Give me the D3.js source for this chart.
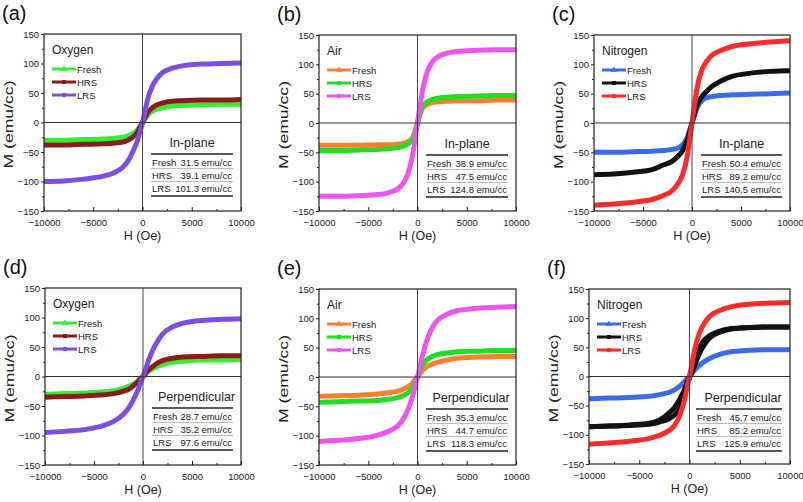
<!DOCTYPE html>
<html><head><meta charset="utf-8">
<script src="https://cdn.jsdelivr.net/npm/d3@7"></script>
<style>
body{margin:0;background:#fff;}
svg{display:block;font-family:"Liberation Sans",Arial,sans-serif;}
</style></head>
<body><svg id="c" width="803" height="502"></svg>
<script>
// ---------- DATA ----------
const H = [-10000,-8000,-6000,-4000,-3000,-2000,-1500,-1000,-500,-250,0,250,500,1000,1500,2000,3000,4000,6000,8000,10000];
const xTicks = [-10000,-5000,0,5000,10000];
const xMinor = [-7500,-2500,2500,7500];
const yTicks = [-150,-100,-50,0,50,100,150];
const yMinor = [-125,-75,-25,25,75,125];
const panelLabels = ["(a)","(b)","(c)","(d)","(e)","(f)"];
const atmospheres = ["Oxygen","Air","Nitrogen","Oxygen","Air","Nitrogen"];
const orientations = ["In-plane","In-plane","In-plane","Perpendicular","Perpendicular","Perpendicular"];
const seriesNames = ["Fresh","HRS","LRS"];
const unitLabel = "emu/cc";
const msTable = [
  ["31.5","39.1","101.3"],
  ["38.9","47.5","124.8"],
  ["50.4","89.2","140.5"],
  ["28.7","35.2","97.6"],
  ["35.3","44.7","118.3"],
  ["45.7","85.2","125.9"]
];
// panel a (Oxygen, in-plane)
const aFresh = [-30,-30,-29,-28,-27,-25,-23,-19,-12,-6,0,6,12,19,23,25,28,29,30,31,31];
const aHRS   = [-38,-38,-37,-36,-35,-33,-30,-25,-16,-8,0,8,16,25,30,33,36,37,38,38,39];
const aLRS   = [-100,-99,-96,-91,-86,-76,-66,-50,-30,-15,0,18,38,62,75,84,92,96,99,100,101];
// panel b (Air, in-plane)
const bFresh = [-38,-38,-38,-37,-37,-36,-35,-32,-25,-14,0,14,25,32,35,36,37,38,38,39,39];
const bHRS   = [-47,-47,-46,-45,-44,-42,-40,-36,-28,-16,0,16,28,36,40,42,44,45,46,47,47];
const bLRS   = [-125,-125,-124,-122,-119,-112,-104,-88,-55,-28,0,28,55,88,104,112,119,122,124,125,125];
// panel c (Nitrogen, in-plane)
const cFresh = [-50,-50,-49,-48,-47,-45,-43,-38,-25,-13,0,13,25,38,43,45,47,48,49,50,51];
const cHRS   = [-88,-87,-84,-79,-72,-65,-58,-48,-30,-15,0,15,30,45,54,62,72,79,85,88,89];
const cLRS   = [-140,-138,-135,-130,-124,-115,-105,-90,-58,-30,0,30,58,90,105,115,124,130,135,138,140];
// panel d (Oxygen, perpendicular)
const dFresh = [-30,-29,-28,-26,-24,-20,-17,-13,-7,-3,0,4,8,13,17,20,24,26,28,28,29];
const dHRS   = [-35,-34,-33,-31,-29,-25,-22,-16,-9,-4,0,5,10,17,23,27,31,33,34,35,35];
const dLRS   = [-95,-93,-90,-83,-76,-64,-54,-40,-22,-11,0,12,24,45,60,72,84,90,95,97,98];
// panel e (Air, perpendicular)
const eFresh = [-33,-32,-31,-29,-27,-24,-21,-17,-10,-5,0,5,11,18,22,25,29,32,34,35,35];
const eHRS   = [-43,-42,-41,-40,-38,-35,-32,-27,-18,-9,0,10,20,30,35,38,41,43,44,45,45];
const eLRS   = [-110,-108,-105,-99,-93,-83,-73,-57,-33,-17,0,18,36,65,84,96,107,113,117,119,120];
// panel f (Nitrogen, perpendicular) - HRS shows an open loop
const fFresh   = [-38,-37,-36,-34,-31,-27,-23,-17,-9,-4,0,5,11,19,26,31,38,42,45,46,46];
const fHRSdown = [-86,-85,-83,-80,-75,-62,-53,-40,-22,-10,0,12,25,50,63,70,78,82,84,85,85];
const fHRSup   = [-86,-85,-84,-82,-78,-72,-66,-55,-30,-15,-3,8,18,40,55,66,76,81,84,85,85];
const fLRS     = [-116,-114,-111,-106,-101,-92,-84,-68,-40,-20,0,22,45,75,92,103,113,119,124,126,127];

const panelSeries = [
  [[aFresh],[aHRS],[aLRS]],
  [[bFresh],[bHRS],[bLRS]],
  [[cFresh],[cHRS],[cLRS]],
  [[dFresh],[dHRS],[dLRS]],
  [[eFresh],[eHRS],[eLRS]],
  [[fFresh],[fHRSdown,fHRSup],[fLRS]]
];

// ---------- STYLE / LAYOUT ----------
const colorsOx = ["#33ee33","#8b1c1c","#7b4fe0"];
const colorsAir = ["#ff7f32","#22dd22","#ee55ee"];
const colorsN2 = ["#3b6be8","#111111","#ff2a2a"];
const panelColors = [colorsOx,colorsAir,colorsN2,colorsOx,colorsAir,colorsN2];
const markers = [d3.symbolTriangle, d3.symbolSquare, d3.symbolCircle];
const boxes = [
  {x0:44,x1:241,y0:34,y1:211},
  {x0:319,x1:516,y0:35,y1:211},
  {x0:594,x1:790,y0:35,y1:211},
  {x0:45,x1:241,y0:288,y1:465},
  {x0:319,x1:516,y0:289,y1:465},
  {x0:589,x1:790,y0:289,y1:464}
];

const svg = d3.select("#c");

boxes.forEach((b,i)=>{
  const g = svg.append("g");
  const x = d3.scaleLinear().domain([-10000,10000]).range([b.x0,b.x1]);
  const y = d3.scaleLinear().domain([-150,150]).range([b.y1,b.y0]);
  const w = b.x1-b.x0, h = b.y1-b.y0;

  // curves
  const line = d3.line().x((d,k)=>x(H[k])).y(d=>y(d)).curve(d3.curveMonotoneX);
  panelSeries[i].forEach((branches,s)=>{
    branches.forEach(arr=>{
      g.append("path").datum(arr).attr("d",line)
        .attr("fill","none").attr("stroke",panelColors[i][s])
        .attr("stroke-width",5).attr("stroke-linejoin","round").attr("stroke-linecap","butt");
    });
  });

  // zero lines
  g.append("line").attr("x1",b.x0).attr("x2",b.x1).attr("y1",y(0)).attr("y2",y(0))
    .attr("stroke","#333").attr("stroke-width",1);
  g.append("line").attr("x1",x(0)).attr("x2",x(0)).attr("y1",b.y0).attr("y2",b.y1)
    .attr("stroke","#445").attr("stroke-width",1);

  // frame
  g.append("rect").attr("x",b.x0).attr("y",b.y0).attr("width",w).attr("height",h)
    .attr("fill","none").attr("stroke","#222").attr("stroke-width",1.2);

  // axes
  g.append("g").attr("transform",`translate(0,${b.y1})`)
    .call(d3.axisBottom(x).tickValues(xTicks).tickSizeInner(-4).tickSizeOuter(0).tickPadding(8).tickFormat(d3.format("d")));
  g.append("g").attr("transform",`translate(0,${b.y1})`)
    .call(d3.axisBottom(x).tickValues(xMinor).tickSizeInner(-2).tickSizeOuter(0).tickFormat(""));
  g.append("g").attr("transform",`translate(${b.x0},0)`)
    .call(d3.axisLeft(y).tickValues(yTicks).tickSizeInner(3).tickSizeOuter(0).tickPadding(2).tickFormat(d3.format("d")));
  g.append("g").attr("transform",`translate(${b.x0},0)`)
    .call(d3.axisLeft(y).tickValues(yMinor).tickSizeInner(2).tickSizeOuter(0).tickFormat(""));
  g.selectAll(".domain").remove();
  g.selectAll(".tick line").attr("stroke","#222");
  g.selectAll(".tick text").attr("font-size","9.5px").attr("fill","#222").attr("font-family","Liberation Sans, Arial, sans-serif");

  // axis titles
  g.append("text").attr("x",(b.x0+b.x1)/2).attr("y",b.y1+29).attr("text-anchor","middle")
    .attr("font-size","12.5px").attr("fill","#222").text("H (Oe)");
  const mx = b.x0-31, my = (b.y0+b.y1)/2 + 2;
  g.append("text").attr("transform",`translate(${mx},${my}) rotate(-90)`).attr("text-anchor","middle")
    .attr("font-size","13px").attr("fill","#222").attr("textLength",88).attr("lengthAdjust","spacingAndGlyphs")
    .text("M (emu/cc)");

  // panel letter
  g.append("text").attr("x",b.x0-42).attr("y",b.y0-14).attr("font-size","20px").attr("fill","#111").text(panelLabels[i]);

  // legend
  g.append("text").attr("x",b.x0+8).attr("y",b.y0+20).attr("font-size","12px").attr("fill","#222").text(atmospheres[i]);
  seriesNames.forEach((n,s)=>{
    const ly = b.y0+35+s*13;
    g.append("line").attr("x1",b.x0+8).attr("x2",b.x0+32).attr("y1",ly).attr("y2",ly)
      .attr("stroke",panelColors[i][s]).attr("stroke-width",3);
    g.append("path").attr("d",d3.symbol().type(markers[s]).size(16)())
      .attr("transform",`translate(${b.x0+20},${ly})`).attr("fill",panelColors[i][s]);
    g.append("text").attr("x",b.x0+33).attr("y",ly+3.5).attr("font-size","9.5px").attr("fill","#222").text(n);
  });

  // table
  const tx0 = b.x0+107, tx1 = b.x1-8, ty = b.y0+120;
  const perp = orientations[i]==="Perpendicular";
  g.append("text").attr("x",(tx0+tx1)/2+(perp?4:0)).attr("y",ty-7).attr("text-anchor","middle")
    .attr("font-size","12.5px").attr("fill","#222").text(orientations[i]);
  g.append("line").attr("x1",tx0).attr("x2",tx1).attr("y1",ty).attr("y2",ty).attr("stroke","#222").attr("stroke-width",1.5);
  g.append("line").attr("x1",tx0).attr("x2",tx1).attr("y1",ty+42).attr("y2",ty+42).attr("stroke","#222").attr("stroke-width",1.5);
  [14.5,27.5].forEach(o=>g.append("line").attr("x1",tx0).attr("x2",tx1).attr("y1",ty+o).attr("y2",ty+o).attr("stroke","#aaa").attr("stroke-width",0.8));
  seriesNames.forEach((n,s)=>{
    const ry = ty+11.5+s*13;
    g.append("text").attr("x",tx0+1).attr("y",ry).attr("font-size","9.5px").attr("fill","#222").text(n);
    g.append("text").attr("x",tx1-34).attr("y",ry).attr("text-anchor","end").attr("font-size","9.5px").attr("fill","#222")
      .text(msTable[i][s]);
    g.append("text").attr("x",tx1-1).attr("y",ry).attr("text-anchor","end").attr("font-size","9.5px").attr("fill","#222")
      .text(unitLabel);
  });
});
</script></body></html>
